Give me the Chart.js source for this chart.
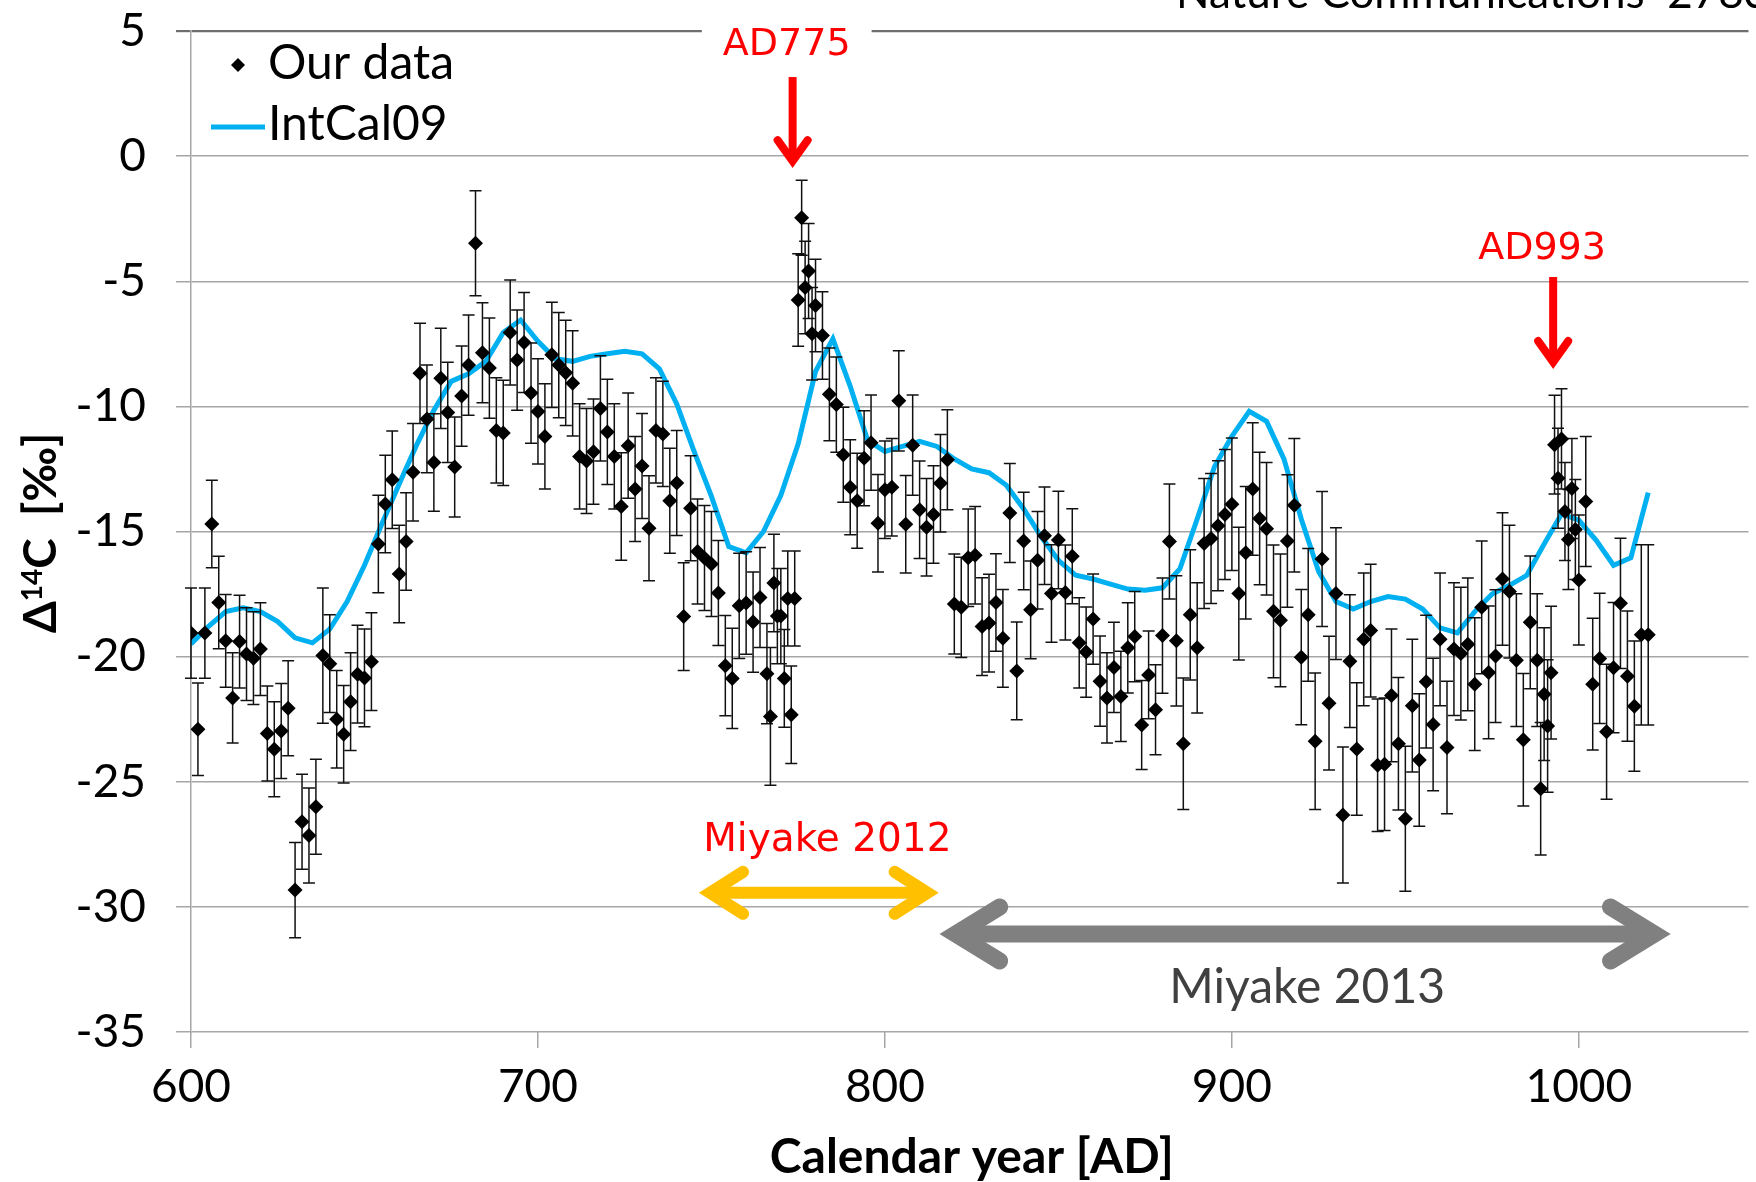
<!DOCTYPE html>
<html>
<head>
<meta charset="utf-8">
<title>Δ14C in tree rings, AD 600–1020</title>
<script src="https://cdn.jsdelivr.net/npm/chart.js@4.4.1/dist/chart.umd.min.js"></script>
<style>
  html, body { margin: 0; padding: 0; background: #fff; }
  #wrap { width: 1756px; height: 1182px; }
</style>
</head>
<body>
<div id="wrap"><canvas id="chart" width="1756" height="1182"></canvas></div>
<script>
// measured Δ14C (‰) with 1σ errors
const years = [
  600, 602, 604, 606, 608, 610, 612, 614, 616, 618, 620, 622, 624, 626, 628, 630, 632, 634, 636, 638,
  640, 642, 644, 646, 648, 650, 652, 654, 656, 658, 660, 662, 664, 666, 668, 670, 672, 674, 676, 678,
  680, 682, 684, 686, 688, 690, 692, 694, 696, 698, 700, 702, 704, 706, 708, 710, 712, 714, 716, 718,
  720, 722, 724, 726, 728, 730, 732, 734, 736, 738, 740, 742, 744, 746, 748, 750, 752, 754, 756, 758,
  760, 762, 764, 766, 767, 768, 769, 770, 771, 772, 773, 774, 775, 776, 777, 778, 779, 780,
  782, 784, 786, 788, 790, 792, 794, 796, 798, 800, 802, 804, 806, 808, 810, 812, 814, 816, 818, 820,
  822, 824, 826, 828, 830, 832, 834, 836, 838, 840, 842, 844, 846, 848, 850, 852, 854, 856, 858, 860,
  862, 864, 866, 868, 870, 872, 874, 876, 878, 880, 882, 884, 886, 888, 890, 892, 894, 896, 898, 900,
  902, 904, 906, 908, 910, 912, 914, 916, 918, 920, 922, 924, 926, 928, 930, 932, 934, 936, 938, 940,
  942, 944, 946, 948, 950, 952, 954, 956, 958, 960, 962, 964, 966, 968, 970, 972, 974, 976, 978, 980,
  982, 984, 986, 988, 989, 990, 991, 992, 993, 994, 995, 996, 997, 998, 999, 1000,
  1002, 1004, 1006, 1008, 1010, 1012, 1014, 1016, 1018, 1020
];
const delta14C = [
  -19.06, -22.9, -19.06, -14.7, -17.84, -19.37, -21.65, -19.4, -19.9, -20.06, -19.7, -23.07, -23.7, -22.97, -22.06, -29.33, -26.6, -27.15, -26.0, -19.96,
  -20.28, -22.5, -23.1, -21.8, -20.7, -20.85, -20.2, -15.5, -13.9, -12.93, -16.7, -15.4, -12.63, -8.68, -10.5, -12.24, -8.88, -10.24, -12.42, -9.59,
  -8.35, -3.48, -7.86, -8.47, -10.96, -11.06, -7.05, -8.15, -7.45, -9.47, -10.2, -11.2, -7.94, -8.35, -8.66, -9.08, -12.0, -12.18, -11.81, -10.08,
  -11.02, -12.0, -14.0, -11.57, -13.3, -12.38, -14.87, -10.96, -11.1, -13.77, -13.06, -18.4, -14.07, -15.8, -16.06, -16.3, -17.46, -20.36, -20.87, -17.97,
  -17.86, -18.62, -17.64, -20.68, -22.39, -17.06, -18.38, -18.38, -20.87, -17.68, -22.32, -17.68, -5.75, -2.46, -5.25, -4.59, -7.1, -5.97,
  -7.17, -9.52, -9.93, -11.93, -13.23, -13.77, -12.07, -11.45, -14.67, -13.33, -13.23, -9.78, -14.71, -11.55, -14.13, -14.83, -14.32, -13.07, -12.13, -17.9,
  -18.03, -16.05, -15.95, -18.8, -18.66, -17.84, -19.27, -14.26, -20.57, -15.38, -18.13, -16.15, -15.17, -17.48, -15.34, -17.44, -15.99, -19.45, -19.82, -18.5,
  -20.98, -21.65, -20.43, -21.59, -19.65, -19.2, -22.73, -20.73, -22.12, -19.16, -15.4, -19.37, -23.48, -18.33, -19.65, -15.48, -15.28, -14.77, -14.32, -13.91,
  -17.48, -15.85, -13.3, -14.48, -14.89, -18.19, -18.55, -15.38, -13.95, -20.02, -18.33, -23.38, -16.1, -21.86, -17.48, -26.33, -20.18, -23.69, -19.31, -18.96,
  -24.34, -24.3, -21.55, -23.48, -26.48, -21.96, -24.13, -21.0, -22.71, -19.31, -23.63, -19.7, -19.88, -19.51, -21.1, -18.03, -20.63, -19.98, -16.9, -17.4,
  -20.14, -23.32, -18.63, -20.14, -25.28, -21.5, -22.77, -20.64, -11.53, -12.87, -11.3, -14.2, -15.32, -13.28, -14.92, -16.94,
  -13.8, -21.1, -20.07, -23.0, -20.44, -17.87, -20.78, -21.98, -19.13, -19.13
];
const sigma = [
  1.8, 1.85, 1.8, 1.75, 1.85, 1.85, 1.8, 1.85, 1.85, 1.85, 1.85, 1.9, 1.9, 1.9, 1.9, 1.9, 1.9, 1.9, 1.9, 2.7,
  1.95, 1.95, 1.95, 1.95, 1.95, 1.95, 1.95, 1.95, 1.95, 1.95, 1.95, 1.95, 1.95, 2.0, 2.15, 1.95, 2.0, 2.0, 2.0, 2.0,
  2.0, 2.1, 2.0, 2.0, 2.1, 2.1, 2.1, 2.0, 2.0, 2.0, 2.1, 2.1, 2.1, 2.1, 2.1, 2.1, 2.1, 2.1, 2.1, 2.1,
  2.1, 2.1, 2.15, 2.1, 2.1, 2.1, 2.1, 2.1, 2.1, 2.1, 2.1, 2.15, 2.1, 2.1, 2.1, 2.1, 2.1, 2.0, 2.0, 2.1,
  2.05, 2.0, 2.0, 2.0, 2.75, 1.95, 1.9, 1.9, 1.95, 1.9, 1.95, 1.9, 1.85, 1.5, 1.85, 1.9, 1.85, 1.85,
  1.75, 1.85, 1.9, 1.9, 1.9, 1.9, 1.9, 1.9, 1.95, 1.95, 1.95, 2.0, 1.95, 2.0, 1.95, 1.95, 1.95, 1.95, 2.0, 2.0,
  2.0, 1.95, 1.95, 1.95, 1.95, 1.95, 1.95, 1.98, 1.95, 1.95, 1.95, 1.95, 1.95, 1.95, 1.95, 1.9, 1.9, 1.8, 1.8, 1.8,
  1.8, 1.8, 1.8, 1.8, 1.8, 1.8, 1.78, 1.75, 1.8, 2.3, 2.3, 2.6, 2.63, 2.6, 2.6, 2.6, 2.6, 2.6, 2.6, 2.65,
  2.65, 2.65, 2.65, 2.65, 2.65, 2.65, 2.65, 2.65, 2.67, 2.7, 2.65, 2.73, 2.7, 2.67, 2.63, 2.72, 2.65, 2.65, 2.65, 2.65,
  2.65, 2.65, 2.65, 2.65, 2.9, 2.65, 2.65, 2.65, 2.65, 2.65, 2.65, 2.65, 2.65, 2.65, 2.65, 2.65, 2.65, 2.65, 2.65, 2.65,
  2.65, 2.65, 2.65, 2.65, 2.65, 2.65, 2.65, 2.65, 1.97, 2.0, 2.0, 1.96, 2.0, 2.0, 2.0, 2.6,
  2.6, 2.63, 2.6, 2.7, 2.6, 2.6, 2.6, 2.6, 3.6, 3.6
];

// IntCal09 calibration curve, 5-yr grid
const intcalYears = [
  600, 605, 610, 615, 620, 625, 630, 635, 640, 645, 650, 655, 660, 665, 670, 675, 680, 685, 690, 695,
  700, 705, 710, 715, 720, 725, 730, 735, 740, 745, 750, 755, 760, 765, 770, 775, 780, 785, 790, 795,
  800, 805, 810, 815, 820, 825, 830, 835, 840, 845, 850, 855, 860, 865, 870, 875, 880, 885, 890, 895,
  900, 905, 910, 915, 920, 925, 930, 935, 940, 945, 950, 955, 960, 965, 970, 975, 980, 985, 990, 995,
  1000, 1005, 1010, 1015, 1020
];
const intcalValues = [
  -19.5, -18.8, -18.2, -18.05, -18.2, -18.6, -19.25, -19.45, -18.9, -17.8, -16.35, -14.7, -13.1, -11.55, -10.15, -9.0, -8.7, -8.2, -7.05, -6.55,
  -7.4, -8.1, -8.2, -8.0, -7.9, -7.8, -7.9, -8.5, -9.9, -11.8, -13.6, -15.6, -15.85, -15.0, -13.55, -11.5, -8.6, -7.3, -9.2, -11.35,
  -11.8, -11.6, -11.4, -11.6, -12.1, -12.5, -12.65, -13.15, -14.1, -15.2, -16.15, -16.75, -16.9, -17.1, -17.3, -17.35, -17.25, -16.5, -14.5, -12.4,
  -11.2, -10.2, -10.6, -12.1, -14.5, -16.6, -17.8, -18.1, -17.8, -17.6, -17.7, -18.1, -18.85, -19.05, -18.2, -17.5, -17.15, -16.75, -15.5, -14.3,
  -14.55, -15.35, -16.35, -16.05, -13.45
];

const xTicks = [600, 700, 800, 900, 1000];
const yTicks = [5, 0, -5, -10, -15, -20, -25, -30, -35];

const FONT = "Lato, 'Open Sans', 'DejaVu Sans', sans-serif";
const RED_FONT = "'DejaVu Sans', Verdana, sans-serif";
const GRID = '#a6a6a6';

Chart.defaults.font.family = FONT;
Chart.defaults.color = '#000';

// vertical error bars with caps, drawn just under the diamonds
const errorBars = {
  id: 'errorBars',
  beforeDatasetDraw(chart, args) {
    if (args.index !== 0) return;
    const { ctx, scales: { x, y } } = chart;
    ctx.save();
    ctx.strokeStyle = '#111';
    ctx.lineWidth = 1.5;
    ctx.beginPath();
    years.forEach((yr, i) => {
      const px = x.getPixelForValue(yr);
      const top = y.getPixelForValue(delta14C[i] + sigma[i]);
      const bot = y.getPixelForValue(delta14C[i] - sigma[i]);
      ctx.moveTo(px, top); ctx.lineTo(px, bot);
      ctx.moveTo(px - 6, top); ctx.lineTo(px + 6, top);
      ctx.moveTo(px - 6, bot); ctx.lineTo(px + 6, bot);
    });
    ctx.stroke();
    ctx.restore();
  }
};

function downArrow(ctx, px, yTop, yTip) {
  ctx.save();
  ctx.strokeStyle = '#ff0000';
  ctx.lineWidth = 8;
  ctx.lineCap = 'butt';
  ctx.beginPath();
  ctx.moveTo(px, yTop);
  ctx.lineTo(px, yTip - 6);
  ctx.stroke();
  ctx.lineCap = 'round';
  ctx.lineJoin = 'miter';
  ctx.beginPath();
  ctx.moveTo(px - 15, yTip - 26);
  ctx.lineTo(px, yTip - 5);
  ctx.lineTo(px + 15, yTip - 26);
  ctx.stroke();
  ctx.restore();
}

function doubleArrow(ctx, x0, x1, py, color, width, headLen, headHalf) {
  ctx.save();
  ctx.strokeStyle = color;
  ctx.lineWidth = width;
  ctx.lineCap = 'butt';
  ctx.beginPath();
  ctx.moveTo(x0, py);
  ctx.lineTo(x1, py);
  ctx.stroke();
  ctx.lineCap = 'round';
  ctx.lineJoin = 'miter';
  ctx.miterLimit = 10;
  ctx.beginPath();
  ctx.moveTo(x0 + headLen, py - headHalf);
  ctx.lineTo(x0, py);
  ctx.lineTo(x0 + headLen, py + headHalf);
  ctx.moveTo(x1 - headLen, py - headHalf);
  ctx.lineTo(x1, py);
  ctx.lineTo(x1 - headLen, py + headHalf);
  ctx.stroke();
  ctx.restore();
}

// legend, axis titles, event labels and arrows
const decorations = {
  id: 'decorations',
  afterDraw(chart) {
    const { ctx, chartArea, scales: { x, y } } = chart;
    ctx.save();

    // journal note, clipped by the top edge
    ctx.fillStyle = '#000';
    ctx.font = `44px ${FONT}`;
    ctx.textAlign = 'left';
    ctx.textBaseline = 'alphabetic';
    ctx.fillText('Nature Communications  2783', 1176, 8);

    // legend
    ctx.fillStyle = '#000';
    ctx.beginPath();
    ctx.moveTo(231, 65); ctx.lineTo(238, 58); ctx.lineTo(245, 65); ctx.lineTo(238, 72);
    ctx.closePath();
    ctx.fill();
    ctx.strokeStyle = '#00b0f0';
    ctx.lineWidth = 5;
    ctx.beginPath();
    ctx.moveTo(211, 127); ctx.lineTo(265, 127);
    ctx.stroke();
    ctx.font = `48px ${FONT}`;
    ctx.textBaseline = 'middle';
    ctx.fillText('Our data', 268, 64);
    ctx.fillText('IntCal09', 268, 125);

    // x title
    ctx.font = `bold 48px ${FONT}`;
    ctx.textAlign = 'center';
    ctx.fillText('Calendar year [AD]', (chartArea.left + chartArea.right) / 2 + 2, 1158);

    // y title with superscript mass number
    ctx.save();
    ctx.translate(39, 533);
    ctx.rotate(-Math.PI / 2);
    const big = `bold 46px ${FONT}`;
    const small = `bold 28px ${FONT}`;
    ctx.textAlign = 'left';
    ctx.textBaseline = 'alphabetic';
    ctx.font = big;
    const wD = ctx.measureText('Δ').width;
    const wRest = ctx.measureText('C  [‰]').width;
    ctx.font = small;
    const w14 = ctx.measureText('14').width;
    let cx = -(wD + w14 + wRest) / 2;
    ctx.font = big;
    ctx.fillText('Δ', cx, 17);
    cx += wD;
    ctx.font = small;
    ctx.fillText('14', cx, 3);
    cx += w14;
    ctx.font = big;
    ctx.fillText('C  [‰]', cx, 17);
    ctx.restore();

    // AD775 label sits on the top border
    ctx.font = `38px ${RED_FONT}`;
    ctx.textAlign = 'center';
    ctx.textBaseline = 'middle';
    const t775 = { x: x.getPixelForValue(771.7), y: y.getPixelForValue(4.43) };
    const w775 = ctx.measureText('AD775').width;
    ctx.fillStyle = '#fff';
    ctx.fillRect(t775.x - w775 / 2 - 21, chartArea.top - 3, w775 + 42, 7);
    ctx.fillStyle = '#ff0000';
    ctx.fillText('AD775', t775.x, t775.y);
    downArrow(ctx, x.getPixelForValue(773.4), y.getPixelForValue(3.16), y.getPixelForValue(-0.4));

    ctx.fillText('AD993', x.getPixelForValue(989.4), y.getPixelForValue(-3.72));
    downArrow(ctx, x.getPixelForValue(992.6), y.getPixelForValue(-4.83), y.getPixelForValue(-8.43));

    ctx.font = `39px ${RED_FONT}`;
    ctx.fillText('Miyake 2012', x.getPixelForValue(783.4), y.getPixelForValue(-27.37));
    doubleArrow(ctx, x.getPixelForValue(749.6), x.getPixelForValue(812.3), y.getPixelForValue(-29.44),
      '#ffc000', 12, 33, 21);

    doubleArrow(ctx, x.getPixelForValue(820.4), x.getPixelForValue(1021.8), y.getPixelForValue(-31.08),
      '#808080', 17, 44, 27);
    ctx.fillStyle = '#404040';
    ctx.font = `48px ${FONT}`;
    ctx.fillText('Miyake 2013', x.getPixelForValue(921.7), y.getPixelForValue(-33.24));

    ctx.restore();
  }
};

new Chart(document.getElementById('chart'), {
  type: 'scatter',
  data: {
    datasets: [
      {
        label: 'Our data',
        data: years.map((yr, i) => ({ x: yr, y: delta14C[i] })),
        pointStyle: 'rectRot',
        pointRadius: 7.5,
        backgroundColor: '#000',
        borderWidth: 0,
        order: 0
      },
      {
        type: 'line',
        label: 'IntCal09',
        data: intcalYears.map((yr, i) => ({ x: yr, y: intcalValues[i] })),
        borderColor: '#00b0f0',
        borderWidth: 5,
        pointRadius: 0,
        tension: 0,
        fill: false,
        order: 1
      }
    ]
  },
  options: {
    responsive: false,
    devicePixelRatio: 1,
    animation: false,
    events: [],
    layout: { padding: { top: 31, left: 0, right: 0, bottom: 0 } },
    plugins: {
      legend: { display: false },
      tooltip: { enabled: false }
    },
    scales: {
      x: {
        type: 'linear',
        min: 600,
        max: 1048.9,
        afterBuildTicks: s => { s.ticks = xTicks.map(v => ({ value: v })); },
        afterFit: s => { s.height = 150; },
        grid: { drawOnChartArea: false, drawTicks: true, tickLength: 16, color: GRID, lineWidth: 1.5 },
        border: { display: false },
        ticks: {
          font: { size: 46 },
          color: '#000',
          padding: 12,
          maxRotation: 0,
          autoSkip: false,
          callback: v => String(v)
        }
      },
      y: {
        type: 'linear',
        min: -35,
        max: 5,
        afterBuildTicks: s => { s.ticks = yTicks.map(v => ({ value: v })); },
        afterFit: s => {
          s.width = 191;
          s.paddingTop = 0;
          s.paddingBottom = 0;
        },
        grid: {
          color: c => (c.tick && c.tick.value === 5 ? '#6e6e6e' : GRID),
          lineWidth: c => (c.tick && c.tick.value === 5 ? 2.2 : 1.5),
          tickLength: 15
        },
        border: { color: GRID, width: 1.5 },
        ticks: {
          font: { size: 46 },
          color: '#000',
          padding: 30,
          callback: v => String(v)
        }
      }
    }
  },
  plugins: [errorBars, decorations]
});
</script>
</body>
</html>
